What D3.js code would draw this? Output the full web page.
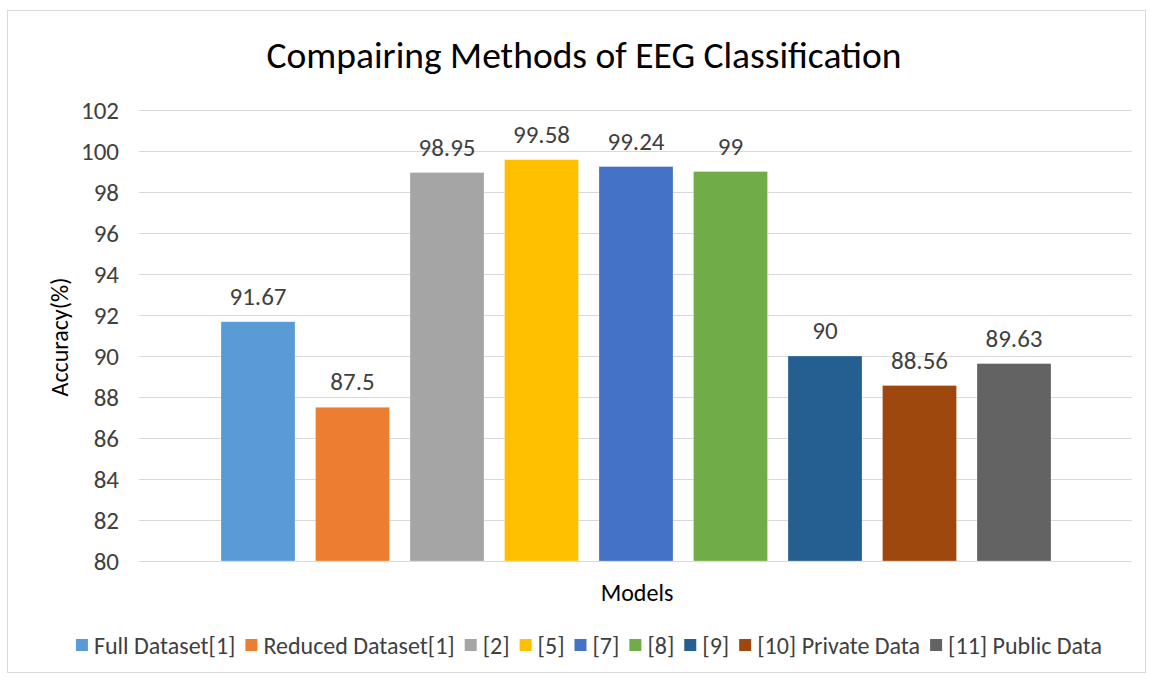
<!DOCTYPE html>
<meta charset="utf-8">
<style>
  body { margin: 0; background: #fff; }
  svg text { font-family: Carlito, Calibri, Lato, sans-serif; fill: #404040; }
  .grid line { stroke: #d9d9d9; stroke-width: 1px; }
  .axis text { font-size: 25px; fill: #404040; }
</style>
<svg width="1153" height="680"></svg>
<script src="https://d3js.org/d3.v7.min.js"></script>
<script>

  var models = ["Full Dataset[1]", "Reduced Dataset[1]", "[2]", "[5]", "[7]", "[8]", "[9]", "[10] Private Data", "[11] Public Data"];
  var accuracy = [91.67, 87.5, 98.95, 99.58, 99.24, 99, 90, 88.56, 89.63];
  var colors = ["#5b9bd5", "#ed7d31", "#a5a5a5", "#ffc000", "#4472c4", "#70ad47", "#255e91", "#9e480e", "#636363"];
  var yTicks = [80, 82, 84, 86, 88, 90, 92, 94, 96, 98, 100, 102];

  var svg = d3.select("svg");

  // chart border
  svg.append("rect")
    .attr("x", 7.5).attr("y", 10.5)
    .attr("width", 1138).attr("height", 662)
    .attr("fill", "#fff")
    .attr("stroke", "#d9d9d9");

  var plot = { left: 139, right: 1132, top: 110, bottom: 561 };

  var y = d3.scaleLinear()
    .domain([80, 102])
    .range([plot.bottom, plot.top]);

  var x = d3.scaleBand()
    .domain(models)
    .range([221, 1051])
    .paddingInner(0.217)
    .paddingOuter(0);

  // gridlines
  svg.append("g")
    .attr("class", "grid")
    .selectAll("line")
    .data(yTicks)
    .enter().append("line")
    .attr("x1", plot.left).attr("x2", plot.right)
    .attr("y1", function (d) { return Math.round(y(d)) + 0.5; })
    .attr("y2", function (d) { return Math.round(y(d)) + 0.5; });

  // y axis labels
  var yAxis = d3.axisLeft(y).tickValues(yTicks).tickSize(0).tickPadding(0);
  var ga = svg.append("g")
    .attr("class", "axis")
    .attr("transform", "translate(" + 119 + ",0)")
    .call(yAxis);
  ga.select(".domain").remove();
  ga.selectAll("text").attr("fill", "#404040").style("font-family", "Carlito, Calibri, Lato, sans-serif");

  // bars
  svg.append("g")
    .selectAll("rect")
    .data(accuracy)
    .enter().append("rect")
    .attr("x", function (d, i) { return x(models[i]); })
    .attr("y", function (d) { return y(d); })
    .attr("width", x.bandwidth())
    .attr("height", function (d) { return y(80) - y(d); })
    .attr("fill", function (d, i) { return colors[i]; })
    .attr("stroke", "#fff")
    .attr("stroke-opacity", 0.5)
    .attr("stroke-width", 0.5);

  // data labels
  svg.append("g")
    .selectAll("text")
    .data(accuracy)
    .enter().append("text")
    .attr("x", function (d, i) { return x(models[i]) + x.bandwidth() / 2; })
    .attr("y", function (d) { return y(d) - 17; })
    .attr("text-anchor", "middle")
    .style("font-size", "25px")
    .text(function (d) { return d; });

  // title
  svg.append("text")
    .attr("x", 584).attr("y", 68)
    .attr("text-anchor", "middle")
    .style("font-size", "37.5px")
    .style("fill", "#000")
    .text("Compairing Methods of EEG Classification");

  // axis titles
  svg.append("text")
    .attr("transform", "translate(68," + 337 + ") rotate(-90)")
    .attr("text-anchor", "middle")
    .style("font-size", "24px")
    .style("fill", "#000")
    .text("Accuracy(%)");

  svg.append("text")
    .attr("x", 637).attr("y", 601)
    .attr("text-anchor", "middle")
    .style("font-size", "24px")
    .style("fill", "#000")
    .text("Models");

  // legend
  var legend = svg.append("g");
  var items = legend.selectAll("g")
    .data(models)
    .enter().append("g");
  items.append("rect")
    .attr("width", 12).attr("height", 12)
    .attr("y", -15)
    .attr("fill", function (d, i) { return colors[i]; });
  items.append("text")
    .attr("x", 18)
    .style("font-size", "24px")
    .text(function (d) { return d; });

  var offset = 0, widths = [];
  items.each(function () {
    var w = d3.select(this).select("text").node().getComputedTextLength() + 18;
    widths.push(w);
  });
  var gap = 10;
  var total = d3.sum(widths) + gap * (widths.length - 1);
  var start = 589 - total / 2;
  items.attr("transform", function (d, i) {
    var tx = start + offset;
    offset += widths[i] + gap;
    return "translate(" + tx + ",654)";
  });

</script>
